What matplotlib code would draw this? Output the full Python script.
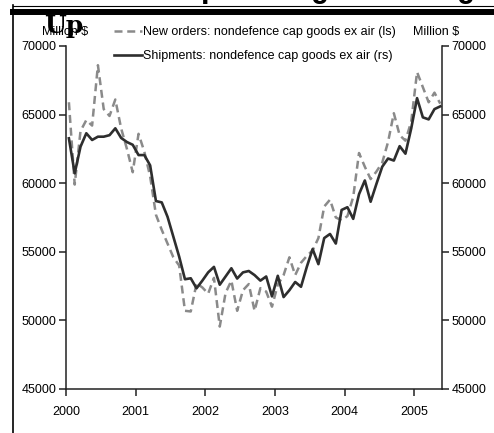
import numpy as np
import pandas as pd
import matplotlib
matplotlib.use('Agg')
import matplotlib.pyplot as plt
from matplotlib.lines import Line2D

plt.rcParams['font.family'] = ['Liberation Sans', 'DejaVu Sans']

# monthly data, Jan 2000 - May 2005 (million $)
months = pd.date_range('2000-01-01', periods=65, freq='MS')
new_orders = [65900, 59900, 63800, 64600, 64200, 68600, 65400, 64900, 66100, 64000, 62500, 60800,
              63600, 62300, 60500, 57700, 56600, 55600, 54600, 54000, 50700, 50650, 52700, 52400,
              51950, 53100, 49550, 52000, 52900, 50700, 52200, 52650, 50700, 52350, 52100, 51000,
              52600, 53300, 54600, 53300, 54200, 54700, 55100, 56000, 58300, 58800, 57500, 57300,
              57600, 59000, 62200, 61200, 60300, 60850, 61500, 63000, 65100, 63500, 63100, 64500,
              68100, 67000, 65900, 66600, 65800]
shipments = [63270, 60720, 62660, 63640, 63150, 63390, 63390, 63500, 64000, 63300, 63000, 62800,
             62050, 62050, 61300, 58700, 58600, 57550, 56100, 54650, 53000, 53070, 52340, 52900,
             53500, 53900, 52600, 53200, 53800, 53050, 53500, 53600, 53300, 52900, 53200, 51750,
             53250, 51700, 52200, 52800, 52450, 53900, 55200, 54100, 56000, 56300, 55600, 58050,
             58250, 57400, 59200, 60200, 58650, 59950, 61200, 61800, 61650, 62700, 62150, 64000,
             66200, 64800, 64650, 65400, 65600]
years = [2000, 2001, 2002, 2003, 2004, 2005]
y_ticks = [45000, 50000, 55000, 60000, 65000, 70000]

# decimal year, mid-month
x = months.year + (months.month - 0.5) / 12

fig = plt.figure(figsize=(4.94, 4.33), dpi=100)
ax = fig.add_axes([66/494, 1 - 389/433, (442-66)/494, (389-46)/433])
ax2 = ax.twinx()

l1, = ax.plot(x, new_orders, color='#8a8a8a', lw=1.8, dashes=(3.2, 1.9),
              label='New orders: nondefence cap goods ex air (ls)')
l2, = ax2.plot(x, shipments, color='#2e2e2e', lw=1.9,
               label='Shipments: nondefence cap goods ex air (rs)')

for a in (ax, ax2):
    a.set_xlim(2000, 2005.4)
    a.set_ylim(45000, 70000)
    a.set_yticks(y_ticks)
    a.spines['top'].set_visible(False)
    for s in a.spines.values():
        s.set_linewidth(1.1)
        s.set_color('#222222')
    a.tick_params(length=5, width=1.1, color='#222222', labelsize=9, pad=2)

ax.set_xticks(years)
ax.set_xticklabels([str(y) for y in years])
ax.tick_params(axis='x', pad=7)
ax.spines['right'].set_visible(False)
ax2.spines['left'].set_visible(False)
ax2.spines['bottom'].set_visible(False)

fig.text(42/494, 1 - 32/433, 'Million $', fontsize=9, va='center', ha='left')
fig.text(413/494, 1 - 32/433, 'Million $', fontsize=9, va='center', ha='left')

fig.legend(handles=[l1, l2], loc='upper left', bbox_to_anchor=(114/494, 1 - 26/433),
           frameon=False, fontsize=9, handlelength=2.2, handletextpad=0.15,
           borderpad=0, borderaxespad=0, labelspacing=0.95)

# page frame around the chart
fig.add_artist(Line2D([13/494, 13/494], [0, 1 - 5/433], transform=fig.transFigure,
                      color='black', lw=1.2))
fig.add_artist(Line2D([13/494, 1], [1 - 5.5/433, 1 - 5.5/433], transform=fig.transFigure,
                      color='black', lw=0.8))
fig.add_artist(Line2D([13/494, 1], [1 - 12/433, 1 - 12/433], transform=fig.transFigure,
                      color='black', lw=4.3))

# cropped headline (only descenders visible) and stray "Up"
fig.text(201/494, 1 + 3/433, 'p     g       g', family='Liberation Mono', weight='bold',
         fontsize=22, va='baseline', ha='left')
fig.text(44/494, 1 - 33/433, 'Up', family='DejaVu Serif', weight='bold',
         fontsize=18, va='baseline', ha='left')

fig.savefig('out.png', dpi=100)
